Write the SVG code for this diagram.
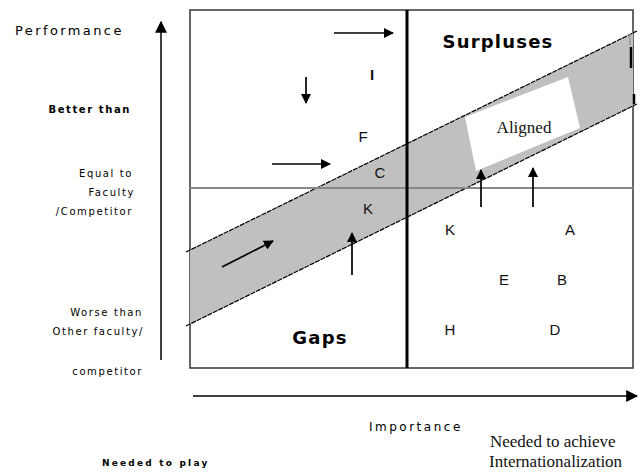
<svg xmlns="http://www.w3.org/2000/svg" width="642" height="475" viewBox="0 0 642 475">
<style>
.lbl{font-family:"DejaVu Sans",Verdana,sans-serif;fill:#000}
.side{font-size:10px;letter-spacing:1.6px;text-anchor:end}
.letter{font-family:"Liberation Sans",Arial,sans-serif;font-size:15px;fill:#111;text-anchor:middle}
.big{font-family:"DejaVu Sans",Verdana,sans-serif;font-weight:bold;font-size:18px;letter-spacing:1.2px;text-anchor:middle}
.serif{font-family:"Liberation Serif","Times New Roman",serif;font-size:17px;fill:#111}
.arr{stroke:#000;stroke-width:1.7;fill:none;marker-end:url(#ah)}
.band{stroke:#000;stroke-width:1.2;fill:none;stroke-dasharray:5 1}
</style>
<defs>
<marker id="ah" viewBox="0 0 10 10" refX="9" refY="5" markerWidth="10" markerHeight="10" orient="auto" markerUnits="userSpaceOnUse">
<path d="M0,0 L10,5 L0,10 z" fill="#000"/>
</marker>
<marker id="big" viewBox="0 0 10 10" refX="9" refY="5" markerWidth="12" markerHeight="13" orient="auto" markerUnits="userSpaceOnUse">
<path d="M0,0 L10,5 L0,10 z" fill="#000"/>
</marker>
</defs>
<rect width="642" height="475" fill="#fff"/>

<g id="chart">
<rect x="190" y="10" width="443" height="358" fill="#fff" stroke="#333" stroke-width="1.5"/>
<polygon points="190,250 633,33 633,106 190,324" fill="#c0c0c0"/>
<polygon points="465,117 568,77 580,128 476,171" fill="#fff"/>
<line x1="186" y1="252" x2="637" y2="31" class="band"/>
<line x1="186" y1="326" x2="637" y2="104" class="band"/>
<line x1="190" y1="188" x2="633" y2="188" stroke="#888" stroke-width="2"/>
<line x1="407" y1="10" x2="407" y2="368" stroke="#000" stroke-width="3"/>
<line x1="631" y1="47" x2="631" y2="68" stroke="#000" stroke-width="2.5"/>
<line x1="634" y1="94" x2="634" y2="104" stroke="#000" stroke-width="2.5"/>
<line x1="630" y1="34" x2="630" y2="45" stroke="#999" stroke-width="1.5"/>
</g>

<g id="axes">
<line x1="161" y1="360" x2="161" y2="22" stroke="#000" stroke-width="1.5" marker-end="url(#big)"/>
<line x1="193" y1="396" x2="637" y2="396" stroke="#000" stroke-width="1.5" marker-end="url(#big)"/>
</g>

<g id="connectors">
<line x1="334" y1="33" x2="393" y2="33" class="arr"/>
<line x1="306" y1="77" x2="306" y2="103" class="arr"/>
<line x1="272" y1="164" x2="330" y2="164" class="arr"/>
<line x1="222" y1="267" x2="273" y2="241" class="arr"/>
<line x1="352" y1="275" x2="352" y2="233" class="arr"/>
<line x1="481" y1="207" x2="481" y2="170" class="arr"/>
<line x1="533" y1="207" x2="533" y2="168" class="arr"/>
</g>

<g id="y-labels">
<text class="lbl" x="15" y="35" font-size="13" letter-spacing="2.4">Performance</text>
<text class="lbl side" x="131" y="113" font-size="9" font-weight="bold" letter-spacing="2.2">Better than</text>
<text class="lbl side" x="133" y="177">Equal to</text>
<text class="lbl side" x="135" y="196">Faculty</text>
<text class="lbl side" x="133" y="215">/Competitor</text>
<text class="lbl side" x="143" y="316">Worse than</text>
<text class="lbl side" x="144" y="335">Other faculty/</text>
<text class="lbl side" x="143" y="375">competitor</text>
</g>

<g id="x-labels">
<text class="lbl" x="369" y="431" font-size="12" letter-spacing="2.5">Importance</text>
<text class="lbl" x="102" y="466" font-size="9" font-weight="bold" letter-spacing="2.2">Needed to play</text>
<text class="serif" x="490" y="447">Needed to achieve</text>
<text class="serif" x="489" y="467">Internationalization</text>
</g>

<g id="regions">
<text class="big" x="498" y="48">Surpluses</text>
<text class="big" x="320" y="344">Gaps</text>
<text class="serif" x="524" y="133" text-anchor="middle">Aligned</text>
</g>

<g id="items">
<text class="letter" x="372" y="80" font-weight="bold" font-size="16">I</text>
<text class="letter" x="363" y="142">F</text>
<text class="letter" x="380" y="178">C</text>
<text class="letter" x="368" y="214" font-size="10">K</text>
<text class="letter" x="450" y="235">K</text>
<text class="letter" x="570" y="235">A</text>
<text class="letter" x="504" y="285">E</text>
<text class="letter" x="562" y="285">B</text>
<text class="letter" x="450" y="335">H</text>
<text class="letter" x="555" y="335">D</text>
</g>
</svg>
